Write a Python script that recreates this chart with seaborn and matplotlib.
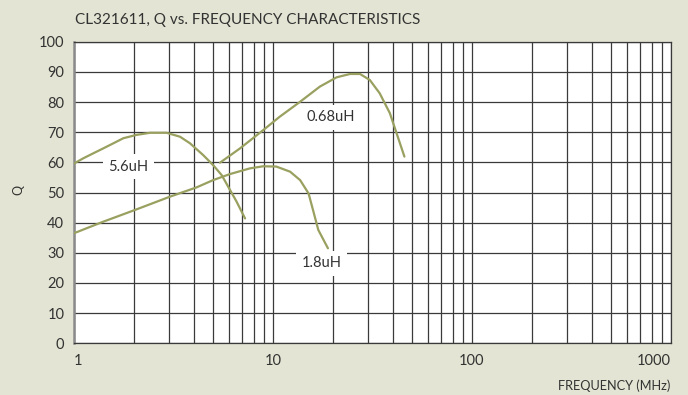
import numpy as np
import pandas as pd
import matplotlib
matplotlib.use('Agg')
import matplotlib.pyplot as plt
import seaborn as sns
from matplotlib.ticker import LogLocator, NullFormatter, FixedLocator

# Q vs frequency
freq_56 = [1.0, 1.11, 1.25, 1.40, 1.575, 1.77, 2.06, 2.41, 2.92, 3.41, 3.83, 4.46, 5.0, 5.52, 5.96, 6.56, 7.24]
q_56 = [59.6, 61.3, 63.0, 64.6, 66.3, 68.0, 69.1, 69.8, 69.8, 68.5, 66.3, 62.4, 59.1, 55.8, 51.9, 47.0, 41.4]

freq_18 = [1.0, 1.40, 2.06, 3.03, 4.13, 5.0, 6.07, 7.66, 8.93, 10.4, 12.2, 13.7, 15.1, 15.9, 16.9, 18.9]
q_18 = [36.5, 40.3, 44.4, 48.6, 51.7, 54.1, 56.1, 58.0, 58.7, 58.6, 56.9, 54.1, 49.7, 44.2, 37.6, 31.5]

freq_068 = [5.42, 6.82, 8.94, 10.8, 13.7, 17.2, 20.9, 24.4, 27.4, 30.7, 34.4, 38.7, 45.8]
q_068 = [59.9, 64.6, 70.7, 75.1, 80.1, 85.1, 88.2, 89.3, 89.3, 87.3, 82.9, 76.3, 61.9]

curve_labels = ['5.6uH', '1.8uH', '0.68uH']
x_ticks = [1, 10, 100, 1000]
x_tick_labels = ['1', '10', '100', '1000']
y_ticks = list(range(0, 101, 10))

bg = '#e3e4d3'
line_col = '#9aa05f'
grid_col = '#3a3a3a'
text_col = '#333333'

sns.set_style('white')
plt.rcParams['font.family'] = ['Lato', 'DejaVu Sans']

fig = plt.figure(figsize=(6.88, 3.95), dpi=100, facecolor=bg)
ax = fig.add_axes([0.1076, 0.1309, 0.975 - 0.1076, 0.8944 - 0.1309])
ax.set_facecolor('white')

for fx, qy in [(freq_56, q_56), (freq_18, q_18), (freq_068, q_068)]:
    sns.lineplot(x=fx, y=qy, ax=ax, color=line_col, lw=1.6, sort=False, estimator=None, zorder=3)

ax.set_xscale('log')
ax.set_xlim(1, 1000)
ax.set_ylim(0, 100)

ax.xaxis.set_major_locator(FixedLocator(x_ticks))
ax.set_xticklabels(x_tick_labels)
ax.xaxis.set_minor_locator(LogLocator(base=10, subs=np.arange(2, 10)))
ax.xaxis.set_minor_formatter(NullFormatter())
ax.set_yticks(y_ticks)

ax.grid(True, which='both', axis='x', color=grid_col, lw=0.9, zorder=1)
ax.grid(True, which='major', axis='y', color=grid_col, lw=0.9, zorder=1)
ax.set_axisbelow(True)

ax.tick_params(axis='both', which='both', length=0, labelsize=10.5, colors=text_col)
ax.tick_params(axis='x', pad=8)
ax.tick_params(axis='y', pad=7)
xl = ax.get_xticklabels()
xl[0].set_horizontalalignment('left')
xl[-1].set_horizontalalignment('right')

for side in ['top', 'right', 'bottom']:
    ax.spines[side].set_color(grid_col)
    ax.spines[side].set_linewidth(0.9)
ax.spines['left'].set_color('#8a8a8a')
ax.spines['left'].set_linewidth(1.8)

ax.set_xlabel('')
ax.set_ylabel('')

box = dict(facecolor='white', edgecolor='none', pad=4)
ax.text(1.875, 58.6, curve_labels[0], ha='center', va='center', fontsize=10.5, color=text_col, bbox=box, zorder=4)
ax.text(17.5, 26.5, curve_labels[1], ha='center', va='center', fontsize=10.5, color=text_col, bbox=box, zorder=4)
ax.text(19.6, 75.0, curve_labels[2], ha='center', va='center', fontsize=10.5, color=text_col, bbox=box, zorder=4)

fig.text(75 / 688, 1 - 20 / 395, 'CL321611, Q vs. FREQUENCY CHARACTERISTICS', ha='left', va='center',
         fontsize=11, color=text_col)
fig.text(18 / 688, 1 - 190 / 395, 'Q', ha='center', va='center', rotation=90, fontsize=9, color=text_col)
fig.text(670 / 688, 1 - 386 / 395, 'FREQUENCY (MHz)', ha='right', va='center', fontsize=9.2, color=text_col)

fig.savefig('out.png', dpi=100, facecolor=bg)
